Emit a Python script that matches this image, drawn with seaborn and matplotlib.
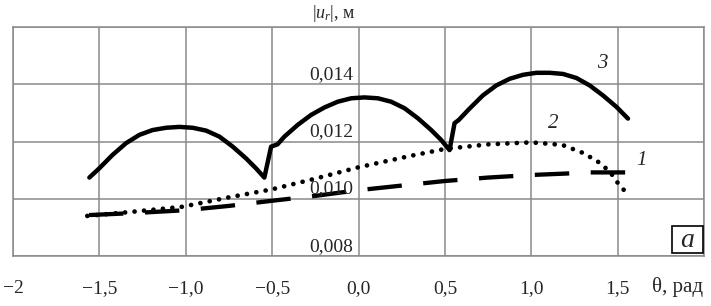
import numpy as np
import pandas as pd
import seaborn as sns
import matplotlib.pyplot as plt
from matplotlib.patches import Rectangle

# кривая 1 (штриховая)
theta_1 = [-1.56, -1.30, -1.00, -0.75, -0.50, -0.25, 0.00, 0.25, 0.50, 0.75, 1.00, 1.20, 1.34, 1.55]
ur_1 = [0.00943, 0.00950, 0.00960, 0.00975, 0.00993, 0.01010, 0.01030, 0.01046, 0.01062, 0.01074,
        0.01083, 0.01088, 0.01092, 0.01092]

# кривая 2 (точки)
theta_2 = [-1.57, -1.30, -1.02, -0.75, -0.50, -0.245, 0.00, 0.295, 0.50, 0.75, 1.00, 1.18, 1.30,
           1.385, 1.455, 1.50, 1.537]
ur_2 = [0.00940, 0.00955, 0.00972, 0.01005, 0.01033, 0.01071, 0.01110, 0.01149, 0.01174, 0.01190,
        0.01197, 0.01188, 0.01160, 0.01130, 0.01095, 0.01056, 0.01030]

# кривая 3 (сплошная)
theta_3 = [-1.558, -1.501, -1.424, -1.346, -1.269, -1.192, -1.114, -1.037, -0.960, -0.882, -0.805,
           -0.728, -0.651, -0.593, -0.545, -0.506, -0.469, -0.429, -0.352, -0.274, -0.197, -0.120,
           -0.042, 0.035, 0.112, 0.189, 0.267, 0.344, 0.421, 0.479, 0.527, 0.556, 0.580, 0.643,
           0.720, 0.798, 0.875, 0.952, 1.030, 1.107, 1.184, 1.261, 1.338, 1.415, 1.493, 1.560]
ur_3 = [0.01074, 0.01106, 0.01153, 0.01194, 0.01223, 0.01240, 0.01248, 0.01251, 0.01248, 0.01238,
        0.01217, 0.01182, 0.01141, 0.01106, 0.01074, 0.01182, 0.01190, 0.01217, 0.01258, 0.01293,
        0.01319, 0.01339, 0.01351, 0.01354, 0.01351, 0.01339, 0.01316, 0.01281, 0.01240, 0.01205,
        0.01170, 0.01264, 0.01275, 0.01315, 0.01361, 0.01396, 0.01419, 0.01433, 0.01440, 0.01440,
        0.01436, 0.01422, 0.01396, 0.01361, 0.01321, 0.01280]

x_ticks = [-2.0, -1.5, -1.0, -0.5, 0.0, 0.5, 1.0, 1.5, 2.0]
x_labels = ["\u22122", "\u22121,5", "\u22121,0", "\u22120,5", "0,0", "0,5", "1,0", "1,5", ""]
y_ticks = [0.008, 0.010, 0.012, 0.014, 0.016]
y_labels = ["0,008", "0,010", "0,012", "0,014", ""]

df1 = pd.DataFrame({"theta": theta_1, "ur": ur_1})
df2 = pd.DataFrame({"theta": theta_2, "ur": ur_2})
df3 = pd.DataFrame({"theta": theta_3, "ur": ur_3})

sns.set_style("white")
plt.rcParams['font.family'] = ['Liberation Serif', 'DejaVu Serif']
plt.rcParams['mathtext.fontset'] = 'custom'
plt.rcParams['mathtext.rm'] = 'Liberation Serif'
plt.rcParams['mathtext.it'] = 'Liberation Serif:italic'

fig = plt.figure(figsize=(7.11, 3.06), dpi=100)
ax = fig.add_axes([13 / 711, 1 - 256 / 306, (704 - 13) / 711, (256 - 27) / 306])

grid_c = "#8a8a8a"
ax.set_xlim(-2, 2)
ax.set_ylim(0.008, 0.016)
ax.set_xticks(x_ticks)
ax.set_xticklabels(x_labels, fontsize=14)
ax.set_yticks(y_ticks)
ax.set_yticklabels([])
ax.grid(True, color=grid_c, linewidth=1.1)
ax.tick_params(axis='x', direction='out', length=6, color=grid_c, width=1.1, pad=11)
ax.tick_params(axis='y', length=0)
for s in ax.spines.values():
    s.set_color(grid_c)
    s.set_linewidth(1.1)

sns.lineplot(data=df1, x="theta", y="ur", ax=ax, color="black", linewidth=3.1,
             linestyle=(0, (8.0, 5.0)), estimator=None, sort=False)
sns.lineplot(data=df2, x="theta", y="ur", ax=ax, color="black", linewidth=3.4,
             linestyle=(0, (0.01, 2.0)), dash_capstyle="round", estimator=None, sort=False)
sns.lineplot(data=df3, x="theta", y="ur", ax=ax, color="black", linewidth=3.2,
             estimator=None, sort=False, solid_joinstyle="round", solid_capstyle="round")
ax.set_xlabel("")
ax.set_ylabel("")

# подписи оси Y у линии θ = 0, над линиями сетки
for v, lab in zip(y_ticks, y_labels):
    ax.annotate(lab, xy=(0, v), xytext=(-4, 1), textcoords="offset points",
                ha="right", va="bottom", fontsize=14)

ax.annotate(r"$|u_r|$, м", xy=(0, 0.016), xytext=(-2, 2), textcoords="offset points",
            ha="right", va="bottom", fontsize=13, annotation_clip=False)
ax.annotate("θ, рад", xy=(2.0, 0.008), xytext=(-1, -22), textcoords="offset points",
            ha="right", va="center", fontsize=15, annotation_clip=False)

ax.text(1.41, 0.01472, "3", fontsize=15, style="italic", ha="center", va="center")
ax.text(1.13, 0.01263, "2", fontsize=15, style="italic", ha="center", va="center")
ax.text(1.64, 0.01132, "1", fontsize=15, style="italic", ha="center", va="center")

ax.add_patch(Rectangle((0.9537, 0.0131), 0.0449, 0.118, transform=ax.transAxes,
                       facecolor="white", edgecolor="black", linewidth=1.2, zorder=5))
ax.text(0.9762, 0.068, "а", fontsize=20, style="italic", ha="center", va="center",
        transform=ax.transAxes, zorder=6)

plt.savefig("out.png", dpi=100)
